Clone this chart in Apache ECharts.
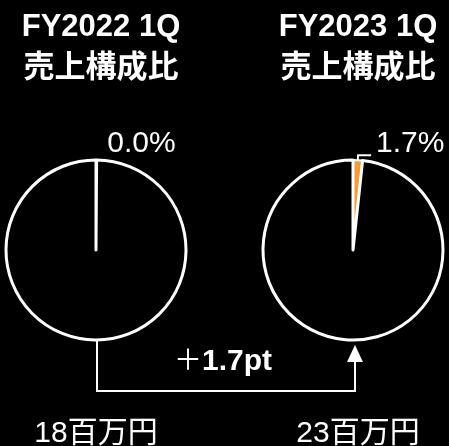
<!DOCTYPE html>
<html>
<head>
<meta charset="utf-8">
<script src="https://cdn.jsdelivr.net/npm/echarts@6/dist/echarts.min.js"></script>
<style>
  html, body { margin: 0; padding: 0; background: #000; }
  #chart { width: 449px; height: 446px; }
</style>
</head>
<body>
<div id="chart"></div>
<script>
// 期間・構成比・売上
const periods = ['FY2022 1Q', 'FY2023 1Q']
const shares = [0.0, 1.7]        // 売上構成比 (%)
const sales = [18, 23]           // 百万円
const diffLabel = '1.7pt'

const FONT = '"Liberation Sans", "Noto Sans CJK JP", sans-serif'
const ORANGE = '#F59B3A'
const centers = [[96, 250], [353, 250]]
const R = 90
const lineLen2 = [6, 13]
const salesX = [91, 353]

const chart = echarts.init(document.getElementById('chart'))

const series = shares.map((share, i) => ({
  type: 'pie',
  center: centers[i],
  radius: R,
  startAngle: 90,
  clockwise: true,
  silent: true,
  minAngle: 0.4,
  avoidLabelOverlap: false,
  minShowLabelAngle: 0,
  emphasis: { disabled: true },
  label: {
    position: 'outside',
    color: '#fff',
    fontSize: 30,
    fontFamily: FONT,
    formatter: p => p.value.toFixed(1) + '%'
  },
  labelLayout: { dy: -11 },
  labelLine: {
    show: i === 1,
    length: 5,
    length2: lineLen2[i],
    lineStyle: { color: '#fff', width: 2 }
  },
  data: [
    {
      name: 'share',
      value: share,
      itemStyle: { color: ORANGE, borderColor: '#fff', borderWidth: 2 }
    },
    {
      name: 'other',
      value: 100 - share,
      label: { show: false },
      labelLine: { show: false },
      itemStyle: { color: '#000', borderColor: '#fff', borderWidth: 3 }
    }
  ]
}))

const titles = []
periods.forEach((p, i) => {
  titles.push({
    text: p + '\n売上構成比',
    left: centers[i][0],
    top: 2,
    textAlign: 'center',
    textStyle: { color: '#fff', fontSize: 31, fontWeight: 'bold', fontFamily: FONT, lineHeight: 41 }
  })
  titles.push({
    text: sales[i] + '百万円',
    left: salesX[i],
    top: 414,
    textAlign: 'center',
    textStyle: { color: '#fff', fontSize: 30, fontWeight: 'normal', fontFamily: FONT }
  })
})

// 矢印
const x0 = centers[0][0] + 1
const x1 = centers[1][0] + 2
const yTop = centers[0][1] + R + 1
const yBottom = 391
const tipY = centers[1][1] + R + 5

chart.setOption({
  backgroundColor: '#000',
  animation: false,
  title: titles,
  series: series,
  graphic: [
    {
      type: 'polyline',
      shape: { points: [[x0, yTop], [x0, yBottom], [x1, yBottom], [x1, tipY + 16]] },
      style: { stroke: '#fff', lineWidth: 2, fill: null }
    },
    {
      type: 'polygon',
      shape: { points: [[x1, tipY], [x1 - 8, tipY + 17], [x1 + 8, tipY + 17]] },
      style: { fill: '#fff' }
    },
    {
      type: 'text',
      x: 223,
      y: 362,
      style: {
        text: '{a|＋}{b|' + diffLabel + '}',
        align: 'center',
        verticalAlign: 'middle',
        rich: {
          a: { fill: '#fff', fontSize: 28, fontFamily: FONT, fontWeight: 'normal' },
          b: { fill: '#fff', fontSize: 30, fontFamily: FONT, fontWeight: 'bold' }
        }
      }
    }
  ]
})
</script>
</body>
</html>
